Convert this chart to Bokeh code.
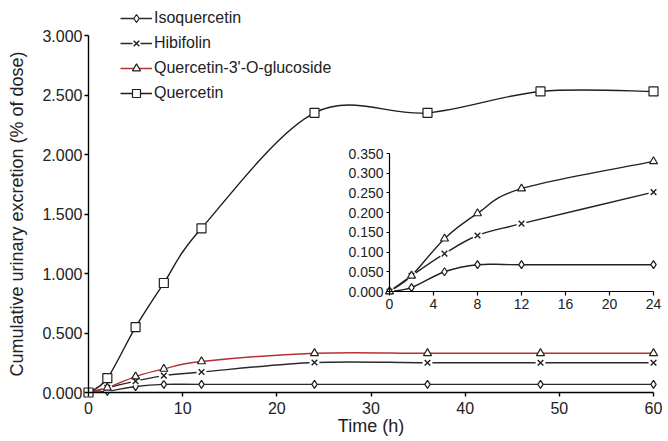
import numpy as np
from bokeh.plotting import figure
from bokeh.models import (Range1d, LinearAxis, FixedTicker, NumeralTickFormatter,
                          Legend, LegendItem, ColumnDataSource)
from bokeh.embed import file_html
from bokeh.resources import INLINE

# ---------------- data ----------------
time_h = [0, 2, 5, 8, 12, 24, 36, 48, 60]
isoquercetin = [0.0, 0.010, 0.050, 0.068, 0.068, 0.068, 0.068, 0.068, 0.068]
hibifolin = [0.0, 0.040, 0.096, 0.142, 0.172, 0.252, 0.250, 0.250, 0.250]
quercetin_3g = [0.0, 0.040, 0.134, 0.198, 0.261, 0.330, 0.330, 0.330, 0.330]
quercetin = [0.0, 0.12, 0.55, 0.92, 1.38, 2.35, 2.35, 2.53, 2.53]
n_inset = 6  # inset shows the first 24 h

main_x_ticks = [0, 10, 20, 30, 40, 50, 60]
main_y_ticks = [0.0, 0.5, 1.0, 1.5, 2.0, 2.5, 3.0]
inset_x_ticks = [0, 4, 8, 12, 16, 20, 24]
inset_y_ticks = [0.0, 0.05, 0.10, 0.15, 0.20, 0.25, 0.30, 0.35]

series_names = ["Isoquercetin", "Hibifolin", "Quercetin-3'-O-glucoside", "Quercetin"]

# ---------------- layout (pixels) ----------------
W, H = 668, 441
MX0, MX1 = 88, 653        # main x: 0 -> 60
MY0, MY1 = 392, 35        # main y: 0 -> 3
IX0, IX1 = 389, 653       # inset x: 0 -> 24
IY0, IY1 = 291, 153       # inset y: 0 -> 0.35


def xrange_for(p0, p1, v0, v1):
    s = (p1 - p0) / (v1 - v0)
    return Range1d(v0 + (0 - p0) / s, v0 + (W - p0) / s)


def yrange_for(p0, p1, v0, v1):
    s = (p0 - p1) / (v1 - v0)   # px per unit, screen y downward
    return Range1d(v0 - (H - p0) / s, v0 + p0 / s)


FONT = "Liberation Sans"

p = figure(width=W, height=H, output_backend="svg", toolbar_location=None,
           x_range=xrange_for(MX0, MX1, 0, 60), y_range=yrange_for(MY0, MY1, 0, 3),
           min_border_left=0, min_border_right=0, min_border_top=0, min_border_bottom=0,
           outline_line_color=None, background_fill_color="white",
           border_fill_color="white")
p.extra_x_ranges = {"ix": xrange_for(IX0, IX1, 0, 24)}
p.extra_y_ranges = {"iy": yrange_for(IY0, IY1, 0, 0.35)}
p.grid.visible = False


def style_axis(ax, size, tick_out, standoff, lw):
    ax.axis_line_color = "black"
    ax.axis_line_width = lw
    ax.major_tick_line_color = "black"
    ax.major_tick_line_width = lw
    ax.major_tick_out = tick_out
    ax.major_tick_in = 0
    ax.minor_tick_out = 0
    ax.minor_tick_in = 0
    ax.major_label_text_font = FONT
    ax.major_label_text_font_size = size
    ax.major_label_text_color = "#222222"
    ax.major_label_standoff = standoff
    ax.axis_label_text_font = FONT
    ax.axis_label_text_font_style = "normal"
    ax.axis_label_text_color = "#222222"


xa = p.xaxis[0]
ya = p.yaxis[0]
xa.fixed_location = 0
ya.fixed_location = 0
xa.bounds = (0, 60)
ya.bounds = (0, 3)
xa.ticker = FixedTicker(ticks=main_x_ticks)
ya.ticker = FixedTicker(ticks=main_y_ticks)
ya.formatter = NumeralTickFormatter(format="0.000")
style_axis(xa, "16px", 4, 5, 1.4)
style_axis(ya, "16px", 4, 2, 1.4)
xa.axis_label = "Time (h)"
xa.axis_label_text_font_size = "18px"
xa.axis_label_standoff = -1
ya.axis_label = "Cumulative urinary excretion (% of dose)"
ya.axis_label_text_font_size = "18px"
ya.axis_label_standoff = 12

ixa = LinearAxis(x_range_name="ix", y_range_name="iy", fixed_location=0,
                 bounds=(0, 24), ticker=FixedTicker(ticks=inset_x_ticks))
iya = LinearAxis(x_range_name="ix", y_range_name="iy", fixed_location=0,
                 bounds=(0, 0.35), ticker=FixedTicker(ticks=inset_y_ticks),
                 formatter=NumeralTickFormatter(format="0.000"))
style_axis(ixa, "14px", 4, 3, 1.2)
style_axis(iya, "14px", 3, 3, 1.2)
p.add_layout(ixa, "below")
p.add_layout(iya, "left")


def bezier_source(xs, ys):
    xs = list(xs); ys = list(ys)
    n = len(xs)
    d = dict(x0=[], y0=[], x1=[], y1=[], cx0=[], cy0=[], cx1=[], cy1=[])
    for i in range(n - 1):
        x0, y0, x1, y1 = xs[i], ys[i], xs[i + 1], ys[i + 1]
        xp, yp = (xs[i - 1], ys[i - 1]) if i > 0 else (x0, y0)
        xn, yn = (xs[i + 2], ys[i + 2]) if i + 2 < n else (x1, y1)
        d["x0"].append(x0); d["y0"].append(y0)
        d["x1"].append(x1); d["y1"].append(y1)
        d["cx0"].append(x0 + (x1 - xp) / 6.0); d["cy0"].append(y0 + (y1 - yp) / 6.0)
        d["cx1"].append(x1 - (xn - x0) / 6.0); d["cy1"].append(y1 - (yn - y0) / 6.0)
    return ColumnDataSource(d)


values = [isoquercetin, hibifolin, quercetin_3g, quercetin]
main_colors = ["#2a2a2a", "#2a2a2a", "#b8302f", "#1e1e1e"]
markers = ["diamond", "x", "triangle", "square"]
msizes = [8, 8, 8, 9]

line_r = []
for vals, col in zip(values, main_colors):
    r = p.bezier(x0="x0", y0="y0", x1="x1", y1="y1", cx0="cx0", cy0="cy0",
                 cx1="cx1", cy1="cy1", source=bezier_source(time_h, vals),
                 line_color=col, line_width=1.4)
    line_r.append(r)

# inset lines
for vals in values[:3]:
    p.bezier(x0="x0", y0="y0", x1="x1", y1="y1", cx0="cx0", cy0="cy0",
             cx1="cx1", cy1="cy1",
             source=bezier_source(time_h[:n_inset], vals[:n_inset]),
             line_color="#222222", line_width=1.4,
             x_range_name="ix", y_range_name="iy")

mark_r = []
for vals, mk, ms in zip(values, markers, msizes):
    rs = []
    if mk == "x":
        rs.append(p.scatter(time_h, vals, marker="circle", size=10,
                            fill_color="white", line_color=None))
        rs.append(p.scatter(time_h, vals, marker="x", size=ms,
                            line_color="#1e1e1e", line_width=1.4))
    else:
        rs.append(p.scatter(time_h, vals, marker=mk, size=ms, fill_color="white",
                            line_color="#1e1e1e", line_width=1.2))
    mark_r.append(rs)

for vals, mk, ms in zip(values[:3], markers[:3], msizes[:3]):
    xi, yi = time_h[:n_inset], vals[:n_inset]
    if mk == "x":
        p.scatter(xi, yi, marker="circle", size=10, fill_color="white",
                  line_color=None, x_range_name="ix", y_range_name="iy")
        p.scatter(xi, yi, marker="x", size=ms, line_color="#1e1e1e",
                  line_width=1.4, x_range_name="ix", y_range_name="iy")
    else:
        p.scatter(xi, yi, marker=mk, size=ms, fill_color="white",
                  line_color="#1e1e1e", line_width=1.2,
                  x_range_name="ix", y_range_name="iy")

legend_items = [LegendItem(label=name, renderers=[lr] + mr)
                for name, lr, mr in zip(series_names, line_r, mark_r)]

LEG_ROW, LEG_SP = 20, 5
LEG_LEFT, LEG_TOP = 120, 8
leg_h = 4 * LEG_ROW + 3 * LEG_SP
legend = Legend(items=legend_items, location=(LEG_LEFT, H - LEG_TOP - leg_h),
                label_text_font=FONT, label_text_font_size="16px",
                label_text_color="#222222",
                glyph_width=32, glyph_height=LEG_ROW, label_height=LEG_ROW,
                spacing=LEG_SP, padding=0, margin=0, label_standoff=2,
                border_line_alpha=0, background_fill_alpha=0)
p.add_layout(legend)

open("out.html", "w").write(file_html(p, INLINE))
